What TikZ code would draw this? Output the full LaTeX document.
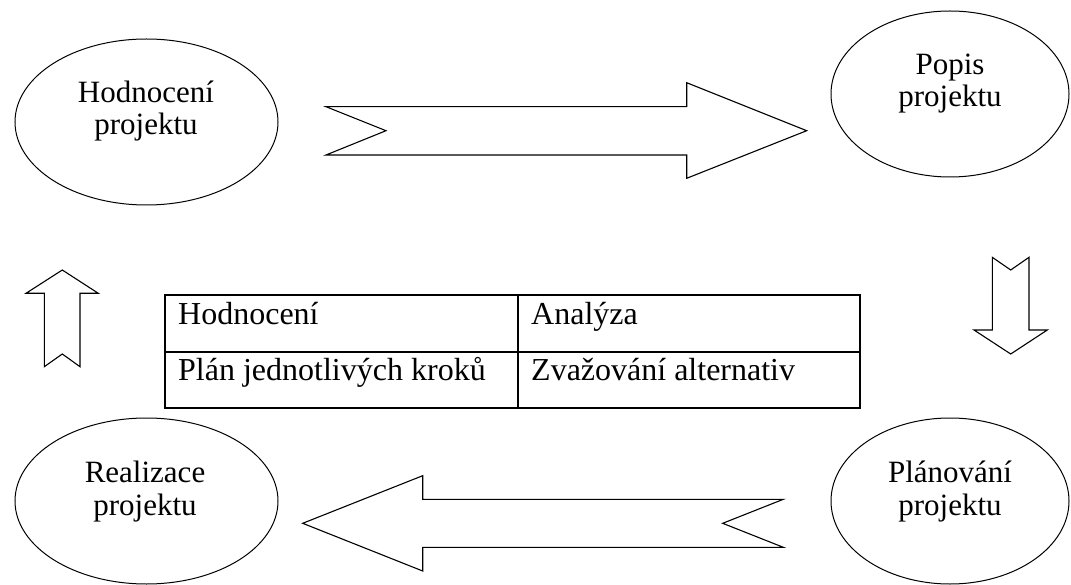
\documentclass[tikz,border=0pt]{standalone}
\usepackage{fontspec}
\setmainfont{Liberation Serif}
\usetikzlibrary{shapes.geometric}
\begin{document}
\begin{tikzpicture}[x=1pt,y=-1pt,
  ell/.style={draw, ellipse, line width=1pt, inner sep=0pt},
  lbl/.style={font=\fontsize{31}{32.5}\selectfont, align=center, inner sep=0pt},
  cell/.style={font=\fontsize{32}{34}\selectfont, inner sep=0pt, anchor=base west},
  blockarrow/.style={draw, line width=1.1pt, line join=miter, fill=white}]
\useasboundingbox (0,0) rectangle (1071,585);
% ellipses
\node[ell, minimum width=263pt, minimum height=166pt] (hod) at (146.5,122) {};
\node[ell, minimum width=238pt, minimum height=166pt] (pop) at (950,94) {};
\node[ell, minimum width=263pt, minimum height=166pt] (rea) at (146.5,501) {};
\node[ell, minimum width=238pt, minimum height=166pt] (pla) at (950,501) {};
\node[lbl, anchor=base] (hodt) at (146,135) {Hodnocení\\projektu};
\node[lbl, anchor=base] (popt) at (950,106.7) {Popis\\projektu};
\node[lbl, anchor=base] (reat) at (145,515) {Realizace\\projektu};
\node[lbl, anchor=base] (plat) at (950,515) {Plánování\\projektu};
% block arrows
\draw[blockarrow] (326,106.7) -- (686.7,106.7) -- (686.7,82.7) -- (806.7,130.7)
  -- (686.7,178.3) -- (686.7,155) -- (326,155) -- (386,130.7) -- cycle;
\draw[blockarrow] (783.3,499.3) -- (422.7,499.3) -- (422.7,475.7) -- (302.7,523.3)
  -- (422.7,571) -- (422.7,547.3) -- (783.3,547.3) -- (722.7,523.3) -- cycle;
\draw[blockarrow] (44.3,366.7) -- (44.3,293.3) -- (26,293.3) -- (62.3,270)
  -- (98.3,293.3) -- (80,293.3) -- (80,366.7) -- (62.3,354) -- cycle;
\draw[blockarrow] (992.3,257.3) -- (992.3,330) -- (974,330) -- (1010.7,354)
  -- (1047.3,330) -- (1029,330) -- (1029,257.3) -- (1010.7,270) -- cycle;
% table
\draw[line width=1.3pt] (165,295) rectangle (860,408);
\draw[line width=1.3pt] (165,352) -- (860,352);
\draw[line width=1.3pt] (518,295) -- (518,408);
\node[cell] (c11) at (178,325) {Hodnocení};
\node[cell] (c12) at (531,325) {Analýza};
\node[cell] (c21) at (178,381) {Plán jednotlivých kroků};
\node[cell] (c22) at (531,381) {Zvažování alternativ};
\end{tikzpicture}
\end{document}
